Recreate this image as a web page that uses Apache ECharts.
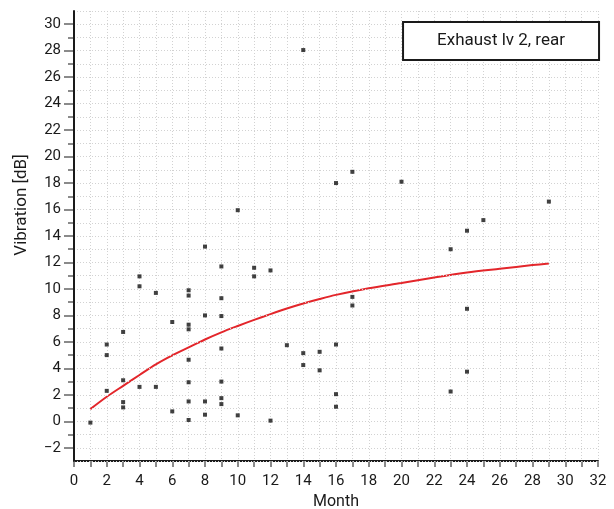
<!DOCTYPE html>
<html>
<head>
<meta charset="utf-8">
<style>
  html, body { margin: 0; padding: 0; background: #fff; }
  #chart { width: 614px; height: 509px; }
</style>
<script src="https://cdn.jsdelivr.net/npm/echarts@6/dist/echarts.min.js"></script>
</head>
<body>
<div id="chart"></div>
<script>
// Measurements: month of operation vs. rear exhaust vibration level
const months = [
  1,
  2, 2, 2,
  3, 3, 3, 3,
  4, 4, 4,
  5, 5,
  6, 6,
  7, 7, 7, 7, 7, 7, 7, 7,
  8, 8, 8, 8,
  9, 9, 9, 9, 9, 9, 9,
  10, 10,
  11, 11,
  12, 12,
  13,
  14, 14, 14,
  15, 15,
  16, 16, 16, 16,
  17, 17, 17,
  20,
  23, 23,
  24, 24, 24,
  25,
  29
];
const vibration = [
  -0.1,
  5.8, 5.0, 2.3,
  6.75, 3.1, 1.45, 1.05,
  10.95, 10.2, 2.6,
  9.7, 2.6,
  7.5, 0.75,
  9.9, 9.5, 7.3, 6.95, 4.65, 2.95, 1.5, 0.1,
  13.2, 8.0, 1.5, 0.5,
  11.7, 9.3, 7.95, 5.5, 3.0, 1.75, 1.3,
  15.95, 0.45,
  11.6, 10.95,
  11.4, 0.05,
  5.75,
  28.05, 5.15, 4.25,
  5.25, 3.85,
  18.0, 5.8, 2.05, 1.1,
  18.85, 9.4, 8.75,
  18.1,
  13.0, 2.25,
  14.4, 8.5, 3.75,
  15.2,
  16.6
];

// Trend curve through the measurements
const trendMonths = [1, 2, 3, 4, 5, 6, 7, 8, 9, 10, 11, 12, 13, 14, 15, 16, 18, 20, 22, 24, 26, 28, 29];
const trendValues = [0.92, 1.85, 2.68, 3.5, 4.3, 4.98, 5.58, 6.18, 6.72, 7.2, 7.66, 8.1, 8.52, 8.9, 9.24, 9.55, 10.05, 10.45, 10.87, 11.25, 11.53, 11.8, 11.92];

const seriesTitle = 'Exhaust lv 2, rear';
const xTitle = 'Month';
const yTitle = 'Vibration [dB]';

const X_MIN = 0, X_MAX = 32;
const Y_MIN = -3, Y_MAX = 31;
const Y_TICK_MIN = -2, Y_TICK_MAX = 30;

const FONT = 'Roboto, "Liberation Sans", sans-serif';
const INK = '#1a1a1a';
const TICK = '#8a8a8a';
const GRIDLINE = '#d2d2d2';

// Plot frame in pixels
const W = 614, H = 509;
const frame = { left: 74, right: 16, top: 11, bottom: 48 };
const unit = (H - frame.top - frame.bottom) / (Y_MAX - Y_MIN);

const chart = echarts.init(document.getElementById('chart'), null, { renderer: 'canvas' });

const scatterData = months.map((m, i) => [m, vibration[i]]);
const trendData = trendMonths.map((m, i) => [m, trendValues[i]]);

chart.setOption({
  animation: false,
  backgroundColor: '#fff',
  title: {
    text: seriesTitle,
    right: 15,
    top: 22,
    padding: [9, 34],
    borderWidth: 2,
    borderColor: INK,
    backgroundColor: '#fff',
    textStyle: {
      fontFamily: FONT,
      fontSize: 17,
      fontWeight: 'normal',
      color: INK,
      lineHeight: 20
    }
  },
  grid: [
    {
      left: frame.left, right: frame.right, top: frame.top, bottom: frame.bottom,
      outerBoundsMode: 'none', containLabel: false
    },
    // Same frame, trimmed to the labelled range -2..30 for the tick scale
    {
      left: frame.left, right: frame.right,
      top: frame.top + (Y_MAX - Y_TICK_MAX) * unit,
      bottom: frame.bottom + (Y_TICK_MIN - Y_MIN) * unit,
      outerBoundsMode: 'none', containLabel: false
    }
  ],
  xAxis: [
    {
      type: 'value',
      gridIndex: 0,
      min: X_MIN, max: X_MAX, interval: 1,
      name: xTitle,
      nameLocation: 'middle',
      nameGap: 31,
      nameTextStyle: { fontFamily: FONT, fontSize: 16, color: INK },
      axisLine: { show: true, onZero: false, lineStyle: { color: INK, width: 2 } },
      axisTick: { show: true, length: 6, lineStyle: { color: TICK, width: 2 } },
      axisLabel: {
        margin: 13,
        fontFamily: FONT, fontSize: 15, color: INK,
        formatter: v => (v % 2 === 0 ? String(v) : '')
      },
      splitLine: { show: true, lineStyle: { color: GRIDLINE, type: [1, 2], width: 1 } }
    },
    { type: 'value', gridIndex: 1, min: X_MIN, max: X_MAX, show: false }
  ],
  yAxis: [
    {
      type: 'value',
      gridIndex: 0,
      min: Y_MIN, max: Y_MAX, interval: 1,
      axisLine: { show: true, onZero: false, lineStyle: { color: INK, width: 2 } },
      axisTick: { show: false },
      axisLabel: { show: false },
      splitLine: { show: true, lineStyle: { color: GRIDLINE, type: [1, 2], width: 1 } },
      z: 3
    },
    {
      type: 'value',
      gridIndex: 1,
      min: Y_TICK_MIN, max: Y_TICK_MAX, interval: 2,
      axisLine: { show: false, onZero: false },
      axisTick: { show: true, length: 10, lineStyle: { color: TICK, width: 2 } },
      minorTick: { show: true, splitNumber: 2, length: 6, lineStyle: { color: TICK, width: 2 } },
      axisLabel: {
        margin: 13,
        fontFamily: FONT, fontSize: 15, color: INK,
        formatter: v => (v < 0 ? '\u2212' + Math.abs(v) : String(v))
      },
      splitLine: { show: false },
      z: 2
    }
  ],
  graphic: [
    {
      type: 'text',
      x: 22,
      y: 205,
      rotation: Math.PI / 2,
      style: {
        text: yTitle,
        align: 'center',
        verticalAlign: 'middle',
        font: '17px ' + FONT,
        fill: INK
      }
    }
  ],
  series: [
    {
      name: 'trend',
      type: 'line',
      xAxisIndex: 0, yAxisIndex: 0,
      data: trendData,
      smooth: 0.3,
      showSymbol: false,
      lineStyle: { color: '#e3262b', width: 2 },
      z: 2
    },
    {
      name: seriesTitle,
      type: 'scatter',
      xAxisIndex: 0, yAxisIndex: 0,
      data: scatterData,
      symbol: 'rect',
      symbolSize: 4,
      itemStyle: { color: '#111' },
      z: 3
    }
  ]
});
</script>
</body>
</html>
